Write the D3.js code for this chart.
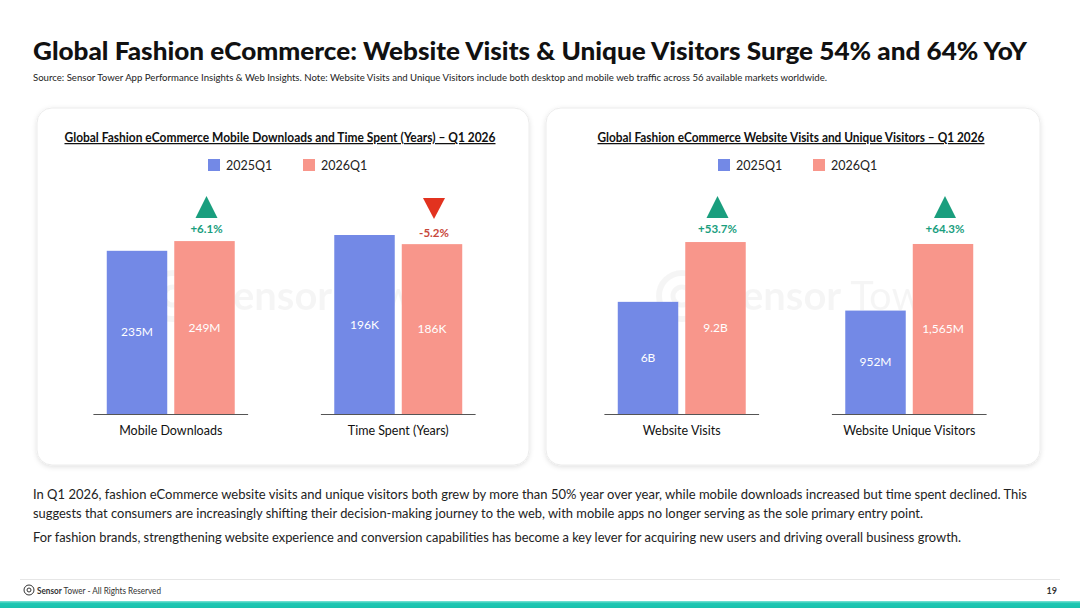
<!DOCTYPE html>
<html>
<head>
<meta charset="utf-8">
<script src="https://cdn.jsdelivr.net/npm/d3@7"></script>
<style>
  html, body { margin: 0; padding: 0; background: #fff; }
  svg { display: block; }
</style>
</head>
<body>
<div id="slide"></div>
<script>
// series + categories
const series = ["2025Q1", "2026Q1"];

const leftCats = ["Mobile Downloads", "Time Spent (Years)"];
const left2025 = [235, 196];
const left2026 = [249, 186];
const left2025Labels = ["235M", "196K"];
const left2026Labels = ["249M", "186K"];
const leftChange = [6.1, -5.2];
const leftAxisMax = [288, 219];   // each category has its own axis

const rightCats = ["Website Visits", "Website Unique Visitors"];
const right2025 = [6, 952];
const right2026 = [9.2, 1565];
const right2025Labels = ["6B", "952M"];
const right2026Labels = ["9.2B", "1,565M"];
const rightChange = [53.7, 64.3];
const rightAxisMax = [10.7, 1841];

const W = 1080, H = 608;
const blue = "#7389E6", salmon = "#F8968B";
const green = "#1A9E7E", red = "#E2321F";
const font = "Lato, 'Noto Sans', sans-serif";

const svg = d3.select("#slide").append("svg")
  .attr("width", W)
  .attr("height", H);

const defs = svg.append("defs");
const shadow = defs.append("filter").attr("id", "shadow")
  .attr("x", "-5%").attr("y", "-5%").attr("width", "110%").attr("height", "112%");
shadow.append("feDropShadow")
  .attr("dx", 0).attr("dy", 1.5).attr("stdDeviation", 2.5)
  .attr("flood-color", "#000").attr("flood-opacity", 0.12);

// 标题
svg.append("text")
  .attr("x", 33).attr("y", 60)
  .attr("font-family", font).attr("font-weight", 900)
  .attr("font-size", 25).attr("fill", "#111")
  .attr("textLength", 994).attr("lengthAdjust", "spacingAndGlyphs")
  .text("Global Fashion eCommerce: Website Visits & Unique Visitors Surge 54% and 64% YoY");

svg.append("text")
  .attr("x", 33).attr("y", 81)
  .attr("font-family", font).attr("font-size", 10).attr("fill", "#222")
  .attr("textLength", 794).attr("lengthAdjust", "spacingAndGlyphs")
  .text("Source: Sensor Tower App Performance Insights & Web Insights. Note: Website Visits and Unique Visitors include both desktop and mobile web traffic across 56 available markets worldwide.");

function drawPanel(cfg) {
  const g = svg.append("g");

  g.append("rect")
    .attr("x", cfg.x).attr("y", 108)
    .attr("width", cfg.w).attr("height", 357)
    .attr("rx", 15)
    .attr("fill", "#fff")
    .attr("stroke", "#ececec")
    .attr("filter", "url(#shadow)");

  // watermark
  const wm = g.append("g").attr("opacity", 0.035);
  wm.append("circle").attr("cx", cfg.x + 136).attr("cy", 296).attr("r", 23)
    .attr("fill", "none").attr("stroke", "#000").attr("stroke-width", 6);
  wm.append("circle").attr("cx", cfg.x + 136).attr("cy", 296).attr("r", 9)
    .attr("fill", "none").attr("stroke", "#000").attr("stroke-width", 5);
  const wt = wm.append("text")
    .attr("x", cfg.x + 174).attr("y", 310)
    .attr("font-family", font).attr("font-size", 40)
    .attr("fill", "#000");
  wt.append("tspan").attr("font-weight", 700).text("Sensor");
  wt.append("tspan").text(" Tower");

  // chart title, underlined
  g.append("text")
    .attr("x", cfg.titleCx).attr("y", 142)
    .attr("text-anchor", "middle")
    .attr("font-family", font).attr("font-weight", 700)
    .attr("font-size", 12.5).attr("fill", "#111")
    .attr("text-decoration", "underline")
    .attr("textLength", cfg.titleLen).attr("lengthAdjust", "spacingAndGlyphs")
    .text(cfg.title);

  // legend
  const legend = g.append("g")
    .attr("transform", `translate(${cfg.x + cfg.legendX}, 159)`);
  series.forEach((s, i) => {
    legend.append("rect")
      .attr("x", i * 95).attr("y", 0)
      .attr("width", 12).attr("height", 12)
      .attr("fill", i === 0 ? blue : salmon);
    legend.append("text")
      .attr("x", i * 95 + 18).attr("y", 11)
      .attr("font-family", font).attr("font-size", 12.5).attr("fill", "#222")
      .text(s);
  });

  const baseline = 414;
  const x0 = d3.scaleBand()
    .domain(cfg.cats)
    .range([cfg.x + cfg.rangeL, cfg.x + cfg.rangeR])
    .paddingInner(0.32).paddingOuter(0.16);
  const x1 = d3.scaleBand()
    .domain(series)
    .range([0, x0.bandwidth()])
    .paddingInner(0.104).paddingOuter(0.198);

  cfg.cats.forEach((c, i) => {
    const y = d3.scaleLinear().domain([0, cfg.axisMax[i]]).range([baseline, baseline - 200]);
    const gx = x0(c);
    const vals = [cfg.v2025[i], cfg.v2026[i]];
    const labels = [cfg.l2025[i], cfg.l2026[i]];

    g.selectAll(null)
      .data(series)
      .enter()
      .append("rect")
      .attr("x", s => gx + x1(s))
      .attr("y", (s, j) => y(vals[j]))
      .attr("width", x1.bandwidth())
      .attr("height", (s, j) => baseline - y(vals[j]))
      .attr("fill", (s, j) => j === 0 ? blue : salmon);

    g.selectAll(null)
      .data(series)
      .enter()
      .append("text")
      .attr("x", s => gx + x1(s) + x1.bandwidth() / 2)
      .attr("y", (s, j) => (y(vals[j]) + baseline) / 2 + 4)
      .attr("text-anchor", "middle")
      .attr("font-family", font).attr("font-size", 12).attr("fill", "#fff")
      .text((s, j) => labels[j]);

    // axis line
    g.append("line")
      .attr("x1", gx).attr("x2", gx + x0.bandwidth())
      .attr("y1", baseline + 0.5).attr("y2", baseline + 0.5)
      .attr("stroke", "#555").attr("stroke-width", 1.2);

    g.append("text")
      .attr("x", gx + x0.bandwidth() / 2).attr("y", 435)
      .attr("text-anchor", "middle")
      .attr("font-family", font).attr("font-size", 12.5).attr("fill", "#111")
      .text(c);

    // YoY marker
    const ch = cfg.change[i];
    const cx = gx + x1("2026Q1") + x1.bandwidth() / 2 + 2;
    const up = ch >= 0;
    const tri = up
      ? [[cx - 11, 218], [cx + 11, 218], [cx, 196]]
      : [[cx - 11, 198], [cx + 11, 198], [cx, 219]];
    g.append("polygon")
      .attr("points", tri.map(p => p.join(",")).join(" "))
      .attr("fill", up ? green : red);
    g.append("text")
      .attr("x", cx).attr("y", up ? 233 : 237)
      .attr("text-anchor", "middle")
      .attr("font-family", font).attr("font-weight", 700)
      .attr("font-size", 11.5).attr("fill", up ? green : "#C8473B")
      .text((up ? "+" : "") + ch.toFixed(1) + "%");
  });
}

drawPanel({
  x: 37, w: 492,
  title: "Global Fashion eCommerce Mobile Downloads and Time Spent (Years) – Q1 2026",
  titleLen: 431, titleCx: 280,
  legendX: 171,
  rangeL: 20, rangeR: 475,
  cats: leftCats, v2025: left2025, v2026: left2026,
  l2025: left2025Labels, l2026: left2026Labels,
  change: leftChange, axisMax: leftAxisMax
});

drawPanel({
  x: 546, w: 494,
  title: "Global Fashion eCommerce Website Visits and Unique Visitors – Q1 2026",
  titleLen: 387, titleCx: 791,
  legendX: 172,
  rangeL: 22, rangeR: 477,
  cats: rightCats, v2025: right2025, v2026: right2026,
  l2025: right2025Labels, l2026: right2026Labels,
  change: rightChange, axisMax: rightAxisMax
});

// body text
const body = [
  ["In Q1 2026, fashion eCommerce website visits and unique visitors both grew by more than 50% year over year, while mobile downloads increased but time spent declined. This", 499, 994],
  ["suggests that consumers are increasingly shifting their decision-making journey to the web, with mobile apps no longer serving as the sole primary entry point.", 518, 890],
  ["For fashion brands, strengthening website experience and conversion capabilities has become a key lever for acquiring new users and driving overall business growth.", 542, 928]
];
body.forEach(([t, y, len]) => {
  svg.append("text")
    .attr("x", 33).attr("y", y)
    .attr("font-family", font).attr("font-size", 13.5).attr("fill", "#222")
    .attr("textLength", len).attr("lengthAdjust", "spacingAndGlyphs")
    .text(t);
});

// footer
svg.append("line")
  .attr("x1", 20).attr("x2", 1060).attr("y1", 579.5).attr("y2", 579.5)
  .attr("stroke", "#e6e6e6");
svg.append("circle").attr("cx", 29).attr("cy", 590).attr("r", 5)
  .attr("fill", "none").attr("stroke", "#333").attr("stroke-width", 1);
svg.append("circle").attr("cx", 29).attr("cy", 590).attr("r", 2)
  .attr("fill", "none").attr("stroke", "#333").attr("stroke-width", 1);
const foot = svg.append("text")
  .attr("x", 37).attr("y", 593.5)
  .attr("font-family", font).attr("font-size", 9).attr("fill", "#333")
  .attr("textLength", 124).attr("lengthAdjust", "spacingAndGlyphs");
foot.append("tspan").attr("font-weight", 700).text("Sensor");
foot.append("tspan").text(" Tower - All Rights Reserved");
svg.append("text")
  .attr("x", 1057).attr("y", 593.5).attr("text-anchor", "end")
  .attr("font-family", font).attr("font-weight", 700).attr("font-size", 9).attr("fill", "#333")
  .text("19");

const grad = defs.append("linearGradient").attr("id", "teal")
  .attr("x1", 0).attr("y1", 0).attr("x2", 0).attr("y2", 1);
grad.append("stop").attr("offset", "0%").attr("stop-color", "#7fe3d6");
grad.append("stop").attr("offset", "35%").attr("stop-color", "#1fc7b2");
grad.append("stop").attr("offset", "100%").attr("stop-color", "#19c1ad");
svg.append("rect")
  .attr("x", 0).attr("y", 601).attr("width", W).attr("height", 7)
  .attr("fill", "url(#teal)");
</script>
</body>
</html>
